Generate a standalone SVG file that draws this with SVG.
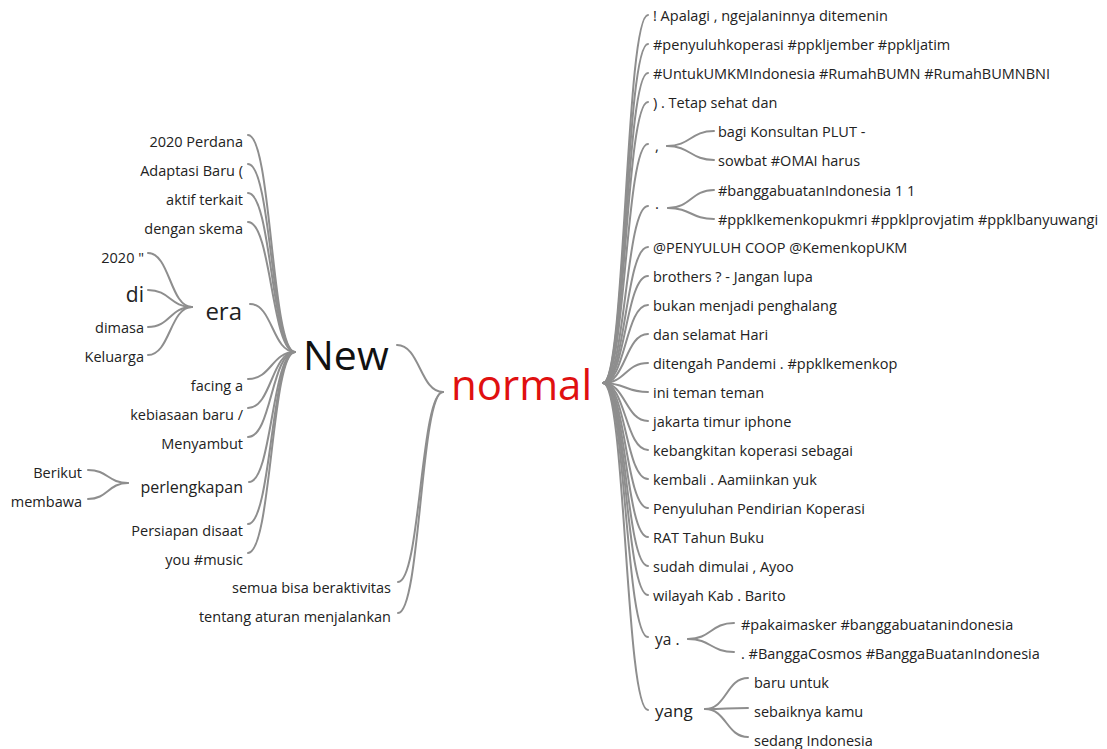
<svg xmlns="http://www.w3.org/2000/svg" width="1107" height="749" viewBox="0 0 1107 749">
<style>
  text { font-family: "Open Sans", "Noto Sans", "Liberation Sans", sans-serif; fill: #222; }
  .leaf { font-size: 14.5px; }
  .end { text-anchor: end; }
  .c path { fill: none; stroke: #8e8e8e; stroke-width: 2; stroke-linecap: round; }
</style>
<rect width="1107" height="749" fill="#fff"/>
<g id="connectors" class="c">
  <!-- normal right -->
  <path d="M603,383 C625.5,383 625.5,15 648,15"/>
  <path d="M603,383 C625.5,383 625.5,44 648,44"/>
  <path d="M603,383 C625.5,383 625.5,73 648,73"/>
  <path d="M603,383 C625.5,383 625.5,102 648,102"/>
  <path d="M603,383 C625.5,383 625.5,144 648,144"/>
  <path d="M603,383 C625.5,383 625.5,206 648,206"/>
  <path d="M603,383 C625.5,383 625.5,247 648,247"/>
  <path d="M603,383 C625.5,383 625.5,276 648,276"/>
  <path d="M603,383 C625.5,383 625.5,305 648,305"/>
  <path d="M603,383 C625.5,383 625.5,334 648,334"/>
  <path d="M603,383 C625.5,383 625.5,363 648,363"/>
  <path d="M603,383 C625.5,383 625.5,392 648,392"/>
  <path d="M603,383 C625.5,383 625.5,421 648,421"/>
  <path d="M603,383 C625.5,383 625.5,450 648,450"/>
  <path d="M603,383 C625.5,383 625.5,479 648,479"/>
  <path d="M603,383 C625.5,383 625.5,508 648,508"/>
  <path d="M603,383 C625.5,383 625.5,537 648,537"/>
  <path d="M603,383 C625.5,383 625.5,566 648,566"/>
  <path d="M603,383 C625.5,383 625.5,595 648,595"/>
  <path d="M603,383 C625.5,383 625.5,637 648,637"/>
  <path d="M603,383 C625.5,383 625.5,710 648,710"/>
  <!-- sub brackets right -->
  <path d="M667,146 C690.5,146 690.5,131 714,131"/>
  <path d="M667,146 C690.5,146 690.5,160 714,160"/>
  <path d="M668,208 C691,208 691,190 714,190"/>
  <path d="M668,208 C691,208 691,219 714,219"/>
  <path d="M688,639 C711,639 711,623 734,623"/>
  <path d="M688,639 C711,639 711,652 734,652"/>
  <path d="M705,709 C726.5,709 726.5,678 748,678"/>
  <path d="M705,709 C726.5,709 726.5,708 748,708"/>
  <path d="M705,709 C726.5,709 726.5,737 748,737"/>
  <!-- normal left -->
  <path d="M397,345 C420,345 420,392 443,392"/>
  <path d="M398,582 C420.5,582 420.5,392 443,392"/>
  <path d="M398,613 C420.5,613 420.5,392 443,392"/>
  <!-- New left -->
  <path d="M248,135 C271.5,135 271.5,352 295,352"/>
  <path d="M248,164 C271.5,164 271.5,352 295,352"/>
  <path d="M248,193 C271.5,193 271.5,352 295,352"/>
  <path d="M248,222 C271.5,222 271.5,352 295,352"/>
  <path d="M250,304 C272.5,304 272.5,352 295,352"/>
  <path d="M248,379 C271.5,379 271.5,352 295,352"/>
  <path d="M248,408 C271.5,408 271.5,352 295,352"/>
  <path d="M248,437 C271.5,437 271.5,352 295,352"/>
  <path d="M249,482 C272,482 272,352 295,352"/>
  <path d="M248,524 C271.5,524 271.5,352 295,352"/>
  <path d="M248,553 C271.5,553 271.5,352 295,352"/>
  <!-- era children -->
  <path d="M148,253 C170,253 170,307 192,307"/>
  <path d="M148,290 C170,290 170,307 192,307"/>
  <path d="M148,327 C170,327 170,307 192,307"/>
  <path d="M148,355 C170,355 170,307 192,307"/>
  <!-- perlengkapan children -->
  <path d="M88,470 C108,470 108,483 128,483"/>
  <path d="M88,499 C108,499 108,483 128,483"/>
</g>
<g id="node-normal"><text x="451" y="400" font-size="42" style="fill:#e01010">normal</text></g>
<g id="node-new"><text x="303" y="370" font-size="41" style="fill:#111">New</text></g>
<g id="node-era"><text class="end" x="242" y="320" font-size="24">era</text></g>
<g id="node-perlengkapan"><text class="end" x="243" y="493" font-size="16">perlengkapan</text></g>
<g id="node-comma"><text x="655" y="151" font-size="15">,</text></g>
<g id="node-dot"><text x="655" y="209" font-size="15">.</text></g>
<g id="node-ya"><text x="655" y="645" font-size="15.5">ya .</text></g>
<g id="node-yang"><text x="655" y="717" font-size="17">yang</text></g>
<g id="node-di"><text class="end" x="144" y="302" font-size="21">di</text></g>
<g id="leaves-left" class="leaf">
  <g id="l-2020perdana"><text class="leaf end" x="243" y="147">2020 Perdana</text></g>
  <g id="l-adaptasi"><text class="leaf end" x="243" y="176">Adaptasi Baru (</text></g>
  <g id="l-aktif"><text class="leaf end" x="243" y="205">aktif terkait</text></g>
  <g id="l-dengan"><text class="leaf end" x="243" y="234">dengan skema</text></g>
  <g id="l-2020q"><text class="leaf end" x="144" y="263">2020 &quot;</text></g>
  <g id="l-dimasa"><text class="leaf end" x="144" y="333">dimasa</text></g>
  <g id="l-keluarga"><text class="leaf end" x="144" y="362">Keluarga</text></g>
  <g id="l-facing"><text class="leaf end" x="243" y="391">facing a</text></g>
  <g id="l-kebiasaan"><text class="leaf end" x="243" y="420">kebiasaan baru /</text></g>
  <g id="l-menyambut"><text class="leaf end" x="243" y="449">Menyambut</text></g>
  <g id="l-berikut"><text class="leaf end" x="82" y="478">Berikut</text></g>
  <g id="l-membawa"><text class="leaf end" x="82" y="507">membawa</text></g>
  <g id="l-persiapan"><text class="leaf end" x="243" y="536">Persiapan disaat</text></g>
  <g id="l-you"><text class="leaf end" x="243" y="565">you #music</text></g>
  <g id="l-semua"><text class="leaf end" x="391" y="593">semua bisa beraktivitas</text></g>
  <g id="l-tentang"><text class="leaf end" x="391" y="622">tentang aturan menjalankan</text></g>
</g>
<g id="leaves-right" class="leaf">
  <g id="r0"><text class="leaf" x="653" y="21">! Apalagi , ngejalaninnya ditemenin</text></g>
  <g id="r1"><text class="leaf" x="653" y="50">#penyuluhkoperasi #ppkljember #ppkljatim</text></g>
  <g id="r2"><text class="leaf" x="653" y="79">#UntukUMKMIndonesia #RumahBUMN #RumahBUMNBNI</text></g>
  <g id="r3"><text class="leaf" x="653" y="108">) . Tetap sehat dan</text></g>
  <g id="r4"><text class="leaf" x="718" y="137">bagi Konsultan PLUT -</text></g>
  <g id="r5"><text class="leaf" x="718" y="166">sowbat #OMAI harus</text></g>
  <g id="r6"><text class="leaf" x="718" y="196">#banggabuatanIndonesia 1 1</text></g>
  <g id="r7"><text class="leaf" x="718" y="225">#ppklkemenkopukmri #ppklprovjatim #ppklbanyuwangi</text></g>
  <g id="r8"><text class="leaf" x="653" y="253">@PENYULUH COOP @KemenkopUKM</text></g>
  <g id="r9"><text class="leaf" x="653" y="282">brothers ? - Jangan lupa</text></g>
  <g id="r10"><text class="leaf" x="653" y="311">bukan menjadi penghalang</text></g>
  <g id="r11"><text class="leaf" x="653" y="340">dan selamat Hari</text></g>
  <g id="r12"><text class="leaf" x="653" y="369">ditengah Pandemi . #ppklkemenkop</text></g>
  <g id="r13"><text class="leaf" x="653" y="398">ini teman teman</text></g>
  <g id="r14"><text class="leaf" x="653" y="427">jakarta timur iphone</text></g>
  <g id="r15"><text class="leaf" x="653" y="456">kebangkitan koperasi sebagai</text></g>
  <g id="r16"><text class="leaf" x="653" y="485">kembali . Aamiinkan yuk</text></g>
  <g id="r17"><text class="leaf" x="653" y="514">Penyuluhan Pendirian Koperasi</text></g>
  <g id="r18"><text class="leaf" x="653" y="543">RAT Tahun Buku</text></g>
  <g id="r19"><text class="leaf" x="653" y="572">sudah dimulai , Ayoo</text></g>
  <g id="r20"><text class="leaf" x="653" y="601">wilayah Kab . Barito</text></g>
  <g id="r21"><text class="leaf" x="741" y="630">#pakaimasker #banggabuatanindonesia</text></g>
  <g id="r22"><text class="leaf" x="741" y="659">. #BanggaCosmos #BanggaBuatanIndonesia</text></g>
  <g id="r23"><text class="leaf" x="754" y="688">baru untuk</text></g>
  <g id="r24"><text class="leaf" x="754" y="717">sebaiknya kamu</text></g>
  <g id="r25"><text class="leaf" x="754" y="746">sedang Indonesia</text></g>
</g>
</svg>
